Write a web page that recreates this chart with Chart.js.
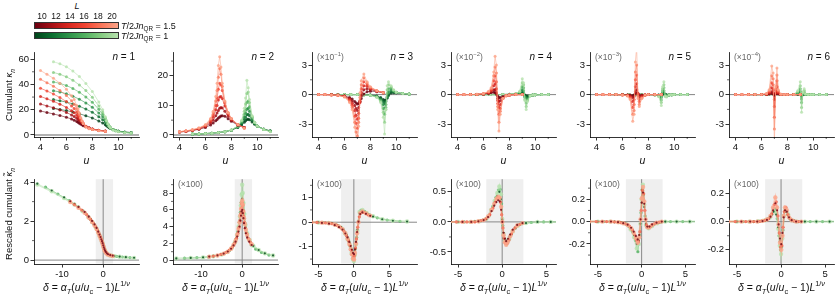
<!DOCTYPE html>
<html>
<head>
<meta charset="utf-8">
<script src="https://cdn.jsdelivr.net/npm/chart.js@4.4.1/dist/chart.umd.min.js"></script>
<style>
  body { margin: 0; background: #fff; }
  #fig { position: relative; width: 840px; height: 294px; overflow: hidden; background: #fff;
         font-family: "Liberation Sans", Arial, sans-serif; color: #111; }
  #fig canvas { position: absolute; }
  .lbl { position: absolute; white-space: nowrap; line-height: 1; }
  .c { transform: translate(-50%, -50%); }
  .r { transform: translate(-100%, -50%); }
  .l { transform: translate(0, -50%); }
  .vert { transform: translate(-50%, -50%) rotate(-90deg); }
  .note { color: #666; font-size: 8.5px; }
  .bar { position: absolute; width: 85px; height: 7px; border: 0.8px solid #333; box-sizing: border-box; }
  sub, sup { font-size: 70%; line-height: 0; }
</style>
</head>
<body>
<div id="fig"></div>
<script>
// ---- grids (top row: u, bottom row: delta) ----
const uRed = [4, 4.5, 5, 5.5, 6, 6.4, 6.6, 6.8, 6.9, 7.0, 7.1, 7.2, 7.3, 7.5, 7.75, 8, 8.5, 9];
const uGreen = [5, 5.5, 6, 6.5, 7, 7.5, 8, 8.5, 8.8, 9.0, 9.1, 9.2, 9.3, 9.4, 9.6, 9.8, 10, 10.5, 11];
const dRed = [-8, -6, -4.5, -3.5, -2.7, -2.1, -1.6, -1.2, -0.9, -0.65, -0.45, -0.28, -0.12, 0.02, 0.16, 0.3, 0.45, 0.65, 0.9, 1.2, 1.7, 2.3];
const dRedMid = [-7, -5.2, -4, -3.1, -2.4, -1.85, -1.4, -1.05, -0.77, -0.55, -0.36, -0.2, -0.05, 0.09, 0.23, 0.37, 0.55, 0.77, 1.05, 1.45, 2.0];
const dGreen = [-16, -12.5, -9.5, -7, -5, -3.6, -2.6, -1.8, -1.25, -0.85, -0.55, -0.32, -0.14, 0, 0.14, 0.3, 0.5, 0.8, 1.2, 1.8, 2.7, 4, 5.5, 7.5];
const dGreenMid = [-14, -11, -8.2, -6, -4.3, -3.1, -2.2, -1.5, -1.05, -0.7, -0.43, -0.23, -0.07, 0.07, 0.22, 0.4, 0.65, 1.0, 1.5, 2.2, 3.3, 4.7, 6.5];

const sizes = [10, 12, 14, 16, 18, 20];
const redShades = ['#6b0010', '#a50f15', '#d7261e', '#f14432', '#f9765a', '#fca488'];
const greenShades = ['#00441b', '#0b6e30', '#2c9148', '#52b160', '#86cc82', '#b7e2ae'];

// ---- cumulant kappa_n(u), one row per L (10..20) ----
const k1Red = [
  [19, 17.8, 16.6, 15.4, 14, 12.6, 11.7, 10.6, 10, 9.3, 8.6, 8, 7.4, 6.5, 5.5, 4.8, 3.8, 3.2],
  [24.5, 23, 21.5, 19.8, 17.8, 15.8, 14.6, 13.2, 12.3, 11.4, 10.4, 9.5, 8.6, 7, 5.7, 4.8, 3.7, 3.1],
  [30.5, 28.6, 26.6, 24.4, 21.8, 19.2, 17.6, 15.6, 14.4, 13, 11.6, 10.2, 8.9, 6.9, 5.5, 4.6, 3.6, 3.0],
  [37, 34.8, 32.4, 29.6, 26.4, 23, 21, 18.2, 16.6, 14.8, 12.6, 10.7, 9.0, 6.7, 5.3, 4.5, 3.5, 3.0],
  [44, 41.4, 38.6, 35.2, 31.2, 27, 24.4, 20.8, 18.6, 16, 13.3, 11, 9.0, 6.5, 5.1, 4.4, 3.5, 2.9],
  [51, 48, 44.8, 41, 36.2, 31, 28, 23.4, 20.6, 17.3, 13.9, 11.2, 9.0, 6.3, 5.0, 4.3, 3.4, 2.9]
];
const k1Green = [
  [21, 20.2, 19.3, 18.2, 16.8, 15.2, 13.4, 11, 9.4, 8.1, 7.3, 6.5, 5.8, 5.2, 4.3, 3.6, 3.1, 2.4, 2.0],
  [28, 27.1, 26, 24.6, 22.7, 20.5, 17.9, 14.4, 12, 10.1, 8.8, 7.6, 6.5, 5.6, 4.4, 3.6, 3.0, 2.2, 1.8],
  [35, 34, 32.6, 30.7, 28.3, 25.4, 21.9, 17.4, 14.4, 11.6, 9.8, 8.2, 6.8, 5.7, 4.3, 3.5, 2.9, 2.1, 1.7],
  [42, 40.8, 39.1, 36.8, 33.8, 30.1, 25.8, 20.3, 16.4, 12.7, 10.5, 8.5, 6.9, 5.7, 4.2, 3.4, 2.8, 2.0, 1.6],
  [49.5, 48, 46, 43.3, 39.6, 35.1, 29.8, 23, 18.2, 13.6, 11, 8.7, 7.0, 5.6, 4.1, 3.3, 2.7, 1.9, 1.5],
  [58, 56.3, 53.9, 50.6, 46.2, 40.8, 34.4, 26, 20, 14.5, 11.5, 8.8, 7.0, 5.6, 4.0, 3.2, 2.6, 1.8, 1.5]
];
const k2Red = [
  [1.0, 1.2, 1.5, 1.9, 2.5, 3.4, 4.0, 4.8, 5.2, 5.7, 6.1, 6.4, 6.5, 6.3, 5.5, 4.6, 3.3, 2.5],
  [1.0, 1.2, 1.6, 2.0, 2.8, 4.0, 5.0, 6.5, 7.4, 8.3, 9.0, 9.3, 9.1, 8.0, 6.3, 5.0, 3.4, 2.5],
  [1.0, 1.3, 1.6, 2.1, 3.0, 4.5, 6.0, 8.5, 10.0, 11.8, 12.8, 13.0, 12.3, 9.8, 7.0, 5.3, 3.5, 2.4],
  [1.1, 1.3, 1.7, 2.2, 3.2, 5.0, 6.8, 10.0, 12.5, 15.5, 17.5, 17.0, 15.0, 10.8, 7.4, 5.5, 3.5, 2.4],
  [1.1, 1.3, 1.7, 2.3, 3.3, 5.3, 7.5, 11.5, 15.0, 19.5, 22.5, 20.5, 16.5, 11.2, 7.5, 5.5, 3.5, 2.3],
  [1.1, 1.4, 1.8, 2.4, 3.5, 5.6, 8.0, 13.0, 17.5, 23.5, 26.5, 23.0, 17.5, 11.5, 7.6, 5.6, 3.5, 2.3]
];
const k2Green = [
  [0.3, 0.35, 0.45, 0.6, 0.8, 1.1, 1.6, 2.5, 3.4, 4.3, 4.8, 5.2, 5.3, 5.1, 4.4, 3.6, 3.0, 2.0, 1.4],
  [0.3, 0.35, 0.45, 0.6, 0.8, 1.1, 1.6, 2.7, 3.8, 5.2, 6.0, 6.8, 7.0, 6.5, 5.0, 3.8, 3.0, 1.9, 1.3],
  [0.3, 0.35, 0.45, 0.6, 0.8, 1.1, 1.6, 2.8, 4.2, 6.0, 7.4, 8.7, 9.0, 8.0, 5.5, 4.0, 3.0, 1.9, 1.3],
  [0.3, 0.35, 0.45, 0.6, 0.8, 1.1, 1.7, 2.9, 4.5, 7.0, 8.8, 11.0, 11.5, 9.5, 6.0, 4.1, 3.0, 1.8, 1.2],
  [0.3, 0.35, 0.45, 0.6, 0.8, 1.1, 1.7, 3.0, 4.8, 8.0, 10.5, 14.0, 14.5, 11.0, 6.3, 4.2, 3.0, 1.8, 1.2],
  [0.3, 0.35, 0.45, 0.6, 0.8, 1.1, 1.7, 3.1, 5.0, 9.0, 12.5, 18.5, 16.0, 12.0, 6.5, 4.3, 3.0, 1.8, 1.1]
];
// kappa_3 in units of 1e-1
const k3Red = [
  [0, 0, -0.02, -0.05, -0.12, -0.3, -0.45, -0.7, -0.85, -0.95, -0.9, -0.7, -0.4, 0.05, 0.3, 0.35, 0.3, 0.2],
  [0, 0, -0.02, -0.05, -0.15, -0.4, -0.65, -1.1, -1.4, -1.6, -1.3, -0.7, -0.1, 0.5, 0.6, 0.5, 0.35, 0.2],
  [0, 0, -0.02, -0.06, -0.18, -0.5, -0.9, -1.6, -2.1, -2.5, -1.9, -0.8, 0.2, 0.9, 0.85, 0.6, 0.35, 0.2],
  [0, 0, -0.02, -0.06, -0.2, -0.6, -1.1, -2.2, -2.9, -3.4, -2.4, -0.6, 0.6, 1.3, 1.0, 0.7, 0.4, 0.2],
  [0, 0, -0.03, -0.07, -0.22, -0.7, -1.3, -2.8, -3.8, -4.2, -2.8, -0.3, 1.0, 1.7, 1.2, 0.75, 0.4, 0.2],
  [0, 0, -0.03, -0.07, -0.25, -0.8, -1.5, -3.3, -4.6, -5.5, -3.2, 0.2, 1.4, 2.1, 1.3, 0.8, 0.4, 0.2]
];
const k3Green = [
  [0, 0, 0, 0, 0, -0.02, -0.05, -0.15, -0.3, -0.5, -0.6, -0.55, -0.35, -0.1, 0.15, 0.2, 0.18, 0.1, 0.05],
  [0, 0, 0, 0, 0, -0.02, -0.05, -0.17, -0.4, -0.7, -0.9, -0.7, -0.3, 0.05, 0.3, 0.3, 0.2, 0.1, 0.05],
  [0, 0, 0, 0, 0, -0.02, -0.05, -0.2, -0.5, -1.0, -1.4, -1.0, -0.2, 0.3, 0.5, 0.35, 0.22, 0.1, 0.05],
  [0, 0, 0, 0, 0, -0.02, -0.06, -0.22, -0.6, -1.4, -2.0, -1.3, 0.1, 0.6, 0.7, 0.4, 0.25, 0.1, 0.05],
  [0, 0, 0, 0, 0, -0.02, -0.06, -0.25, -0.7, -1.8, -2.8, -1.5, 0.5, 1.0, 0.8, 0.45, 0.25, 0.1, 0.05],
  [0, 0, 0, 0, 0, -0.03, -0.07, -0.3, -0.8, -2.3, -4.0, -1.5, 0.9, 1.3, 0.9, 0.5, 0.25, 0.1, 0.05]
];
// kappa_4 in units of 1e-2
const k4Red = [
  [0, 0, 0, 0.02, 0.05, 0.12, 0.2, 0.25, 0.2, 0.05, -0.15, -0.3, -0.3, -0.2, -0.08, -0.03, 0, 0],
  [0, 0, 0, 0.02, 0.06, 0.15, 0.3, 0.5, 0.5, 0.2, -0.4, -0.7, -0.6, -0.3, -0.1, -0.03, 0, 0],
  [0, 0, 0, 0.02, 0.07, 0.2, 0.4, 0.9, 1.1, 0.6, -0.6, -1.3, -1.0, -0.4, -0.12, -0.04, 0, 0],
  [0, 0, 0, 0.02, 0.08, 0.25, 0.5, 1.4, 1.9, 1.3, -0.9, -2.0, -1.4, -0.4, -0.12, -0.04, 0, 0],
  [0, 0, 0, 0.03, 0.09, 0.3, 0.6, 1.9, 2.8, 2.2, -1.2, -2.8, -1.7, -0.4, -0.12, -0.04, 0, 0],
  [0, 0, 0, 0.03, 0.1, 0.35, 0.7, 2.3, 3.9, 3.0, -1.5, -3.7, -2.0, -0.4, -0.1, -0.04, 0, 0]
];
const k4Green = [
  [0, 0, 0, 0, 0, 0.01, 0.02, 0.05, 0.1, 0.15, 0.1, -0.05, -0.15, -0.15, -0.08, -0.04, -0.02, 0, 0],
  [0, 0, 0, 0, 0, 0.01, 0.02, 0.06, 0.15, 0.3, 0.2, -0.1, -0.3, -0.25, -0.1, -0.04, -0.02, 0, 0],
  [0, 0, 0, 0, 0, 0.01, 0.03, 0.07, 0.2, 0.5, 0.4, -0.2, -0.55, -0.4, -0.12, -0.05, -0.02, 0, 0],
  [0, 0, 0, 0, 0, 0.01, 0.03, 0.08, 0.25, 0.8, 0.7, -0.3, -0.85, -0.5, -0.12, -0.05, -0.02, 0, 0],
  [0, 0, 0, 0, 0, 0.01, 0.03, 0.09, 0.3, 1.2, 1.0, -0.5, -1.2, -0.6, -0.12, -0.05, -0.02, 0, 0],
  [0, 0, 0, 0, 0, 0.01, 0.03, 0.1, 0.35, 1.6, 1.2, -0.6, -1.5, -0.7, -0.12, -0.05, -0.02, 0, 0]
];
// kappa_5 in units of 1e-3
const k5Red = [
  [0, 0, 0, 0, -0.01, -0.03, -0.05, -0.1, -0.05, 0.1, 0.15, 0.05, -0.05, -0.05, -0.02, 0, 0, 0],
  [0, 0, 0, 0, -0.01, -0.05, -0.1, -0.3, -0.2, 0.3, 0.5, 0.1, -0.2, -0.1, -0.03, 0, 0, 0],
  [0, 0, 0, 0, -0.02, -0.08, -0.2, -0.7, -0.5, 0.8, 1.1, 0.1, -0.4, -0.2, -0.04, 0, 0, 0],
  [0, 0, 0, 0, -0.02, -0.1, -0.3, -1.3, -1.0, 1.5, 2.0, 0, -0.7, -0.3, -0.05, 0, 0, 0],
  [0, 0, 0, 0, -0.03, -0.12, -0.4, -2.0, -1.6, 2.3, 3.0, -0.2, -1.0, -0.35, -0.05, 0, 0, 0],
  [0, 0, 0, 0, -0.03, -0.15, -0.5, -2.7, -2.0, 3.3, 4.8, -0.4, -1.2, -0.4, -0.05, 0, 0, 0]
];
const k5Green = [
  [0, 0, 0, 0, 0, 0, 0, -0.01, -0.03, -0.06, 0.03, 0.08, 0.02, -0.02, -0.02, -0.01, 0, 0, 0],
  [0, 0, 0, 0, 0, 0, 0, -0.01, -0.05, -0.15, 0.1, 0.2, 0.0, -0.05, -0.03, -0.01, 0, 0, 0],
  [0, 0, 0, 0, 0, 0, 0, -0.02, -0.08, -0.3, 0.2, 0.4, -0.05, -0.1, -0.04, -0.01, 0, 0, 0],
  [0, 0, 0, 0, 0, 0, 0, -0.02, -0.12, -0.55, 0.4, 0.7, -0.1, -0.15, -0.05, -0.01, 0, 0, 0],
  [0, 0, 0, 0, 0, 0, 0, -0.03, -0.16, -0.8, 0.6, 1.0, -0.15, -0.2, -0.05, -0.01, 0, 0, 0],
  [0, 0, 0, 0, 0, 0, 0, -0.03, -0.2, -1.1, 0.8, 1.3, -0.2, -0.25, -0.05, -0.01, 0, 0, 0]
];
// kappa_6 in units of 1e-4
const k6Red = [
  [0, 0, 0, 0, 0, 0.02, 0.05, 0.1, 0.05, -0.15, 0.05, 0.1, 0.05, 0, 0, 0, 0, 0],
  [0, 0, 0, 0, 0, 0.03, 0.1, 0.3, 0.2, -0.5, 0.1, 0.3, 0.1, 0, 0, 0, 0, 0],
  [0, 0, 0, 0, 0, 0.05, 0.2, 0.7, 0.5, -1.2, 0.2, 0.8, 0.2, 0.02, 0, 0, 0, 0],
  [0, 0, 0, 0, 0.01, 0.07, 0.3, 1.2, 1.0, -2.3, 0.4, 1.4, 0.3, 0.03, 0, 0, 0, 0],
  [0, 0, 0, 0, 0.01, 0.09, 0.4, 1.9, 1.6, -3.5, 0.6, 2.0, 0.4, 0.03, 0, 0, 0, 0],
  [0, 0, 0, 0, 0.01, 0.1, 0.5, 2.9, 2.2, -5.0, 0.8, 2.7, 0.5, 0.03, 0, 0, 0, 0]
];
const k6Green = [
  [0, 0, 0, 0, 0, 0, 0, 0, 0.02, 0.05, -0.08, 0.02, 0.03, 0, 0, 0, 0, 0, 0],
  [0, 0, 0, 0, 0, 0, 0, 0.01, 0.05, 0.15, -0.2, 0.05, 0.08, 0.01, 0, 0, 0, 0, 0],
  [0, 0, 0, 0, 0, 0, 0, 0.01, 0.1, 0.35, -0.45, 0.1, 0.15, 0.02, 0, 0, 0, 0, 0],
  [0, 0, 0, 0, 0, 0, 0, 0.01, 0.2, 0.6, -0.8, 0.15, 0.3, 0.03, 0, 0, 0, 0, 0],
  [0, 0, 0, 0, 0, 0, 0, 0.02, 0.3, 0.9, -1.3, 0.2, 0.45, 0.04, 0, 0, 0, 0, 0],
  [0, 0, 0, 0, 0, 0, 0, 0.02, 0.4, 1.3, -1.8, 0.25, 0.6, 0.05, 0, 0, 0, 0, 0]
];

// ---- rescaled cumulants vs delta: [L=10 on dRed/dGreen, L=15 on *Mid, L=20 on dRed/dGreen] ----
const r1Red = [
  [3.02, 2.73, 2.47, 2.23, 2.01, 1.83, 1.65, 1.46, 1.31, 1.18, 1.07, 0.97, 0.87, 0.76, 0.66, 0.57, 0.49, 0.42, 0.35, 0.3, 0.26, 0.23],
  [2.85, 2.57, 2.33, 2.1, 1.9, 1.72, 1.53, 1.36, 1.22, 1.1, 1.0, 0.9, 0.8, 0.7, 0.6, 0.51, 0.43, 0.37, 0.31, 0.27, 0.23],
  [2.98, 2.68, 2.43, 2.18, 1.96, 1.78, 1.6, 1.41, 1.26, 1.13, 1.03, 0.93, 0.83, 0.72, 0.62, 0.53, 0.46, 0.39, 0.33, 0.28, 0.24, 0.21]
];
const r1Green = [
  [3.92, 3.57, 3.22, 2.88, 2.54, 2.24, 1.97, 1.7, 1.47, 1.27, 1.12, 0.99, 0.87, 0.77, 0.67, 0.57, 0.47, 0.37, 0.3, 0.25, 0.21, 0.18, 0.15, 0.12],
  [3.74, 3.39, 3.05, 2.73, 2.4, 2.1, 1.84, 1.58, 1.37, 1.19, 1.05, 0.93, 0.82, 0.72, 0.62, 0.52, 0.41, 0.33, 0.27, 0.22, 0.19, 0.16, 0.13],
  [3.88, 3.53, 3.18, 2.85, 2.51, 2.21, 1.94, 1.67, 1.44, 1.24, 1.09, 0.97, 0.85, 0.75, 0.65, 0.55, 0.45, 0.36, 0.29, 0.24, 0.2, 0.17, 0.14, 0.11]
];
const r2Red = [
  [0.42, 0.57, 0.78, 1.02, 1.35, 1.75, 2.2, 2.8, 3.4, 4.0, 4.7, 5.3, 5.8, 6.0, 5.6, 5.0, 4.4, 3.8, 3.2, 2.7, 2.2, 1.8],
  [0.48, 0.68, 0.9, 1.2, 1.55, 2.0, 2.6, 3.2, 3.9, 4.7, 5.5, 6.2, 6.7, 6.5, 5.9, 5.2, 4.5, 3.8, 3.2, 2.6, 2.1],
  [0.4, 0.55, 0.75, 1.0, 1.35, 1.8, 2.3, 3.0, 3.7, 4.5, 5.3, 6.1, 6.8, 7.1, 6.6, 5.8, 5.0, 4.3, 3.6, 3.0, 2.4, 1.9]
];
const r2Green = [
  [0.2, 0.25, 0.33, 0.46, 0.66, 0.97, 1.42, 2.1, 2.9, 3.8, 4.8, 5.8, 6.7, 7.3, 6.8, 5.9, 4.9, 3.9, 3.0, 2.3, 1.7, 1.2, 0.8, 0.55],
  [0.22, 0.28, 0.38, 0.54, 0.8, 1.15, 1.7, 2.5, 3.4, 4.5, 5.7, 6.9, 7.9, 7.9, 6.9, 5.6, 4.4, 3.3, 2.5, 1.8, 1.3, 0.9, 0.6],
  [0.2, 0.25, 0.32, 0.45, 0.65, 0.95, 1.4, 2.1, 3.0, 4.0, 5.2, 6.5, 7.8, 9.0, 8.0, 6.8, 5.5, 4.2, 3.2, 2.4, 1.7, 1.2, 0.8, 0.55]
];
const r3Red = [
  [0, -0.01, -0.03, -0.06, -0.12, -0.2, -0.3, -0.46, -0.62, -0.8, -0.97, -1.12, -1.25, -1.3, -1.1, -0.8, -0.4, 0.02, 0.33, 0.4, 0.34, 0.26],
  [0, -0.01, -0.03, -0.06, -0.12, -0.22, -0.36, -0.54, -0.74, -0.94, -1.14, -1.3, -1.42, -1.35, -1.05, -0.68, -0.2, 0.22, 0.4, 0.4, 0.3],
  [0, 0, -0.02, -0.04, -0.09, -0.17, -0.28, -0.45, -0.66, -0.88, -1.1, -1.3, -1.48, -1.52, -1.25, -0.87, -0.45, 0.0, 0.37, 0.44, 0.36, 0.27]
];
const r3Green = [
  [0, 0, 0, 0, -0.01, -0.03, -0.09, -0.2, -0.4, -0.62, -0.85, -1.1, -1.3, -1.35, -1.15, -0.8, -0.3, 0.35, 0.45, 0.36, 0.23, 0.12, 0.06, 0.03],
  [0, 0, 0, 0, -0.02, -0.05, -0.14, -0.3, -0.52, -0.78, -1.05, -1.32, -1.45, -1.38, -1.08, -0.62, 0.05, 0.48, 0.44, 0.3, 0.18, 0.09, 0.04],
  [0, 0, 0, 0, -0.01, -0.03, -0.1, -0.22, -0.45, -0.7, -0.95, -1.25, -1.5, -1.58, -1.32, -0.9, -0.35, 0.42, 0.5, 0.38, 0.24, 0.12, 0.06, 0.03]
];
const r4Red = [
  [0, 0, 0, 0, 0.01, 0.03, 0.08, 0.18, 0.27, 0.33, 0.36, 0.34, 0.2, 0.0, -0.18, -0.28, -0.32, -0.28, -0.21, -0.13, -0.05, -0.02],
  [0, 0, 0, 0, 0.02, 0.05, 0.12, 0.23, 0.33, 0.4, 0.41, 0.33, 0.12, -0.1, -0.27, -0.35, -0.36, -0.3, -0.2, -0.1, -0.04],
  [0, 0, 0, 0, 0.01, 0.03, 0.09, 0.2, 0.3, 0.38, 0.42, 0.4, 0.25, 0.0, -0.22, -0.34, -0.38, -0.33, -0.24, -0.15, -0.06, -0.02]
];
const r4Green = [
  [0, 0, 0, 0, 0, 0, 0.01, 0.05, 0.18, 0.32, 0.43, 0.5, 0.38, 0.04, -0.18, -0.28, -0.31, -0.25, -0.14, -0.05, -0.02, 0, 0, 0],
  [0, 0, 0, 0, 0, 0.01, 0.03, 0.1, 0.26, 0.41, 0.53, 0.54, 0.3, -0.06, -0.27, -0.35, -0.32, -0.21, -0.1, -0.03, -0.01, 0, 0],
  [0, 0, 0, 0, 0, 0, 0.01, 0.05, 0.2, 0.35, 0.48, 0.59, 0.46, 0.05, -0.2, -0.32, -0.36, -0.28, -0.16, -0.06, -0.02, 0, 0, 0]
];
const r5Red = [
  [0, 0, 0, 0, -0.005, -0.014, -0.028, -0.055, -0.09, -0.13, -0.16, -0.12, 0.02, 0.17, 0.26, 0.16, 0.02, -0.045, -0.045, -0.025, -0.01, 0],
  [0, 0, 0, -0.003, -0.01, -0.02, -0.04, -0.075, -0.12, -0.17, -0.18, -0.09, 0.1, 0.28, 0.25, 0.1, -0.03, -0.055, -0.04, -0.02, -0.005],
  [0, 0, 0, 0, -0.005, -0.015, -0.03, -0.06, -0.1, -0.15, -0.19, -0.14, 0.02, 0.21, 0.31, 0.18, 0.02, -0.05, -0.05, -0.03, -0.01, 0]
];
const r5Green = [
  [0, 0, 0, 0, 0, 0, -0.005, -0.02, -0.06, -0.12, -0.2, -0.17, -0.02, 0.17, 0.28, 0.13, -0.02, -0.05, -0.035, -0.012, 0, 0, 0, 0],
  [0, 0, 0, 0, 0, -0.002, -0.01, -0.04, -0.09, -0.17, -0.27, -0.12, 0.08, 0.29, 0.24, 0.05, -0.05, -0.045, -0.02, -0.005, 0, 0, 0],
  [0, 0, 0, 0, 0, 0, -0.005, -0.02, -0.07, -0.14, -0.24, -0.2, -0.02, 0.2, 0.33, 0.15, -0.03, -0.06, -0.04, -0.015, 0, 0, 0, 0]
];
const r6Red = [
  [0, 0, 0, 0, 0, 0.004, 0.012, 0.035, 0.08, 0.13, 0.08, -0.02, -0.12, -0.16, -0.08, 0.03, 0.08, 0.07, 0.03, 0.01, 0, 0],
  [0, 0, 0, 0, 0.002, 0.008, 0.02, 0.055, 0.12, 0.14, 0.04, -0.08, -0.18, -0.17, -0.04, 0.07, 0.1, 0.05, 0.02, 0.005, 0],
  [0, 0, 0, 0, 0, 0.005, 0.015, 0.04, 0.1, 0.17, 0.1, -0.02, -0.15, -0.2, -0.1, 0.04, 0.1, 0.08, 0.03, 0.01, 0, 0]
];
const r6Green = [
  [0, 0, 0, 0, 0, 0, 0.003, 0.01, 0.03, 0.07, 0.05, -0.04, -0.14, -0.19, -0.1, 0.03, 0.08, 0.04, 0.01, 0, 0, 0, 0, 0],
  [0, 0, 0, 0, 0, 0, 0.005, 0.02, 0.05, 0.09, 0.02, -0.1, -0.2, -0.18, -0.06, 0.07, 0.07, 0.02, 0.005, 0, 0, 0, 0],
  [0, 0, 0, 0, 0, 0, 0.003, 0.01, 0.03, 0.08, 0.06, -0.05, -0.17, -0.23, -0.12, 0.04, 0.09, 0.05, 0.01, 0, 0, 0, 0, 0]
];

// ---- axes ----
const topXTicks = [4, 6, 8, 10];
const topYTicks = [[0, 20, 40, 60], [0, 10, 20], [-3, 0, 3], [-3, 0, 3], [-3, 0, 3], [-3, 0, 3]];
const topYMinor = [[10, 30, 50], [5, 15, 25], [-1.5, 1.5], [-1.5, 1.5], [-1.5, 1.5], [-1.5, 1.5]];
const topYRange = [[-1.6, 65.5], [-0.7, 28], [-4.3, 4.3], [-4.3, 4.3], [-4.3, 4.3], [-4.3, 4.3]];
const topNotes = ['', '', '(×10<sup>−1</sup>)', '(×10<sup>−2</sup>)', '(×10<sup>−3</sup>)', '(×10<sup>−4</sup>)'];
const botXTicks = [[-10, 0], [-10, 0], [-5, 0, 5], [-5, 0, 5], [-5, 0, 5], [-5, 0, 5]];
const botXRange = [[-16.8, 8.7], [-16.8, 8.7], [-5.9, 8.9], [-5.8, 6.1], [-5.9, 6.1], [-5.9, 6.0]];
const botYTicks = [[0, 2, 4], [0, 2, 4, 6, 8], [-1, 0, 1], [-0.5, 0, 0.5], [-0.2, 0, 0.2], [-0.2, 0, 0.2]];
const botYMinor = [[1, 3], [1, 3, 5, 7, 9], [-1.5, -0.5, 0.5, 1.5], [-0.25, 0.25], [-0.3, -0.1, 0.1, 0.3], [-0.1, 0.1]];
const botYRange = [[-0.2, 4.15], [-0.47, 9.65], [-1.7, 1.75], [-0.7, 0.71], [-0.38, 0.38], [-0.3, 0.3]];
const botYDigits = [0, 0, 0, 1, 1, 1];
const critBand = [-1.8, 2.4];

const topRed = [k1Red, k2Red, k3Red, k4Red, k5Red, k6Red];
const topGreen = [k1Green, k2Green, k3Green, k4Green, k5Green, k6Green];
const botRed = [r1Red, r2Red, r3Red, r4Red, r5Red, r6Red];
const botGreen = [r1Green, r2Green, r3Green, r4Green, r5Green, r6Green];

// ---- layout ----
const colLeft = [34, 173, 312, 451, 590, 729];
const rowTop = [51, 178];
const PW = 105, PH = 86, YW = 30, XH = 18, PAD = 6;

Chart.defaults.font.family = '"Liberation Sans", Arial, sans-serif';
Chart.defaults.font.size = 9.5;
Chart.defaults.color = '#111';

const fig = document.getElementById('fig');

function rgba(hex, a) {
  const n = parseInt(hex.slice(1), 16);
  return `rgba(${n >> 16},${(n >> 8) & 255},${n & 255},${a})`;
}

function line(xs, ys, color, width, radius) {
  return {
    data: ys.map((y, i) => ({x: xs[i], y: y})),
    showLine: width > 0,
    borderColor: rgba(color, 0.55),
    borderWidth: width,
    pointRadius: radius,
    pointBackgroundColor: rgba(color, 0.8),
    pointBorderWidth: 0,
    pointHoverRadius: 0
  };
}

// reference lines, critical band and minor ticks
const decor = {
  id: 'decor',
  beforeDraw(chart, args, o) {
    const {ctx, chartArea: a, scales: {x, y}} = chart;
    ctx.save();
    if (o.band) {
      const x0 = x.getPixelForValue(o.band[0]), x1 = x.getPixelForValue(o.band[1]);
      ctx.fillStyle = '#efefef';
      ctx.fillRect(x0, a.top, x1 - x0, a.bottom - a.top - 0.5);
    }
    ctx.strokeStyle = o.lineColor || '#888';
    ctx.lineWidth = o.lineWidth || 1;
    ctx.beginPath();
    if (o.hline) {
      const p = y.getPixelForValue(0);
      ctx.moveTo(a.left, p); ctx.lineTo(a.right, p);
    }
    if (o.vline) {
      const p = x.getPixelForValue(0);
      ctx.moveTo(p, a.top); ctx.lineTo(p, a.bottom);
    }
    ctx.stroke();
    ctx.restore();
  },
  afterDraw(chart, args, o) {
    const {ctx, chartArea: a, scales: {x, y}} = chart;
    ctx.save();
    ctx.strokeStyle = '#000';
    ctx.lineWidth = 0.6;
    ctx.beginPath();
    (o.xMinor || []).forEach(v => {
      const p = x.getPixelForValue(v);
      ctx.moveTo(p, a.bottom); ctx.lineTo(p, a.bottom + 2);
    });
    (o.yMinor || []).forEach(v => {
      const p = y.getPixelForValue(v);
      ctx.moveTo(a.left, p); ctx.lineTo(a.left - 2, p);
    });
    ctx.stroke();
    ctx.restore();
  }
};

function axis(range, ticks, digits, fitFn) {
  return {
    type: 'linear',
    min: range[0],
    max: range[1],
    afterBuildTicks: s => { s.ticks = ticks.map(v => ({value: v})); },
    afterFit: fitFn,
    grid: {drawOnChartArea: false, drawTicks: true, tickLength: 3.5, color: '#000', lineWidth: 0.8},
    border: {display: true, color: '#000', width: 0.8},
    ticks: {
      autoSkip: false, maxRotation: 0, padding: 1.5, color: '#111',
      callback: v => v.toFixed(digits)
    }
  };
}

function panel(row, col, datasets, xr, xt, yr, yt, yDigits, deco) {
  const c = document.createElement('canvas');
  const w = YW + PW + PAD, h = PAD + PH + XH;
  c.width = w; c.height = h;
  c.style.left = (colLeft[col] - YW) + 'px';
  c.style.top = (rowTop[row] - PAD) + 'px';
  fig.appendChild(c);
  new Chart(c, {
    type: 'scatter',
    data: {datasets: datasets},
    options: {
      responsive: false,
      animation: false,
      devicePixelRatio: 1,
      layout: {padding: {top: PAD, right: PAD, left: 0, bottom: 0}},
      plugins: {legend: {display: false}, tooltip: {enabled: false}, decor: deco},
      scales: {
        x: axis(xr, xt, 0, s => { s.height = XH; }),
        y: axis(yr, yt, yDigits, s => { s.width = YW; })
      }
    },
    plugins: [decor]
  });
}

function label(html, x, y, cls, size, extra) {
  const d = document.createElement('div');
  d.className = 'lbl ' + cls;
  d.innerHTML = html;
  d.style.left = x + 'px';
  d.style.top = y + 'px';
  d.style.fontSize = (size || 10) + 'px';
  if (extra) Object.assign(d.style, extra);
  fig.appendChild(d);
}

// top row: kappa_n vs u (lightest L drawn on top: first dataset is drawn last)
for (let k = 0; k < 6; k++) {
  const sets = [];
  for (let i = 5; i >= 0; i--) sets.push(line(uRed, topRed[k][i], redShades[i], 1, 1.5));
  for (let i = 5; i >= 0; i--) sets.push(line(uGreen, topGreen[k][i], greenShades[i], 1, 1.5));
  panel(0, k, sets, [3.5, 11.6], topXTicks, topYRange[k], topYTicks[k], 0,
    {hline: true, lineColor: k < 2 ? '#999' : '#777', lineWidth: k < 2 ? 1.5 : 0.9,
     xMinor: [5, 7, 9, 11], yMinor: topYMinor[k]});
  const cx = colLeft[k] + PW / 2;
  label('<i>u</i>', cx, 160, 'c', 10.5);
  label('<i>n</i> = ' + (k + 1), colLeft[k] + PW - 4, 57, 'r', 10);
  if (topNotes[k]) label(topNotes[k], colLeft[k] + 5, 57, 'l note', 8.5);
}

// bottom row: rescaled cumulants vs delta
// small dark L=10 dots on top, wide light L=20 band, mid L=15 underneath
const order = [0, 2, 1];
const pick = [0, 3, 5], radii = [1.1, 1.6, 2.2], widths = [0, 1.0, 2.0];
for (let k = 0; k < 6; k++) {
  const sets = [];
  const rx = [dRed, dRedMid, dRed], gx = [dGreen, dGreenMid, dGreen];
  order.forEach(i => sets.push(line(rx[i], botRed[k][i], redShades[pick[i]], widths[i], radii[i])));
  order.forEach(i => sets.push(line(gx[i], botGreen[k][i], greenShades[pick[i]], widths[i], radii[i])));
  panel(1, k, sets, botXRange[k], botXTicks[k], botYRange[k], botYTicks[k], botYDigits[k],
    {band: critBand, hline: true, vline: true, lineColor: '#888', lineWidth: 1,
     xMinor: [], yMinor: botYMinor[k]});
  const cx = colLeft[k] + PW / 2;
  label('<i>δ</i> = <i>α</i><sub><i>T</i></sub>(<i>u</i>/<i>u</i><sub>c</sub> − 1)<i>L</i><sup>1/<i>ν</i></sup>', cx, 287, 'c', 10.5);
  if (k > 0) label('(×100)', colLeft[k] + 5, 184, 'l note', 8.5);
}

// y titles
label('Cumulant <i>κ</i><sub><i>n</i></sub>', 9, 95, 'vert', 9.5);
label('Rescaled cumulant <i>κ̃</i><sub><i>n</i></sub>', 9, 214, 'vert', 9.5);

// colour bars for L
label('<i>L</i>', 77, 6, 'c', 9);
sizes.forEach((s, i) => label(String(s), 42 + 14 * i, 16, 'c', 8.5));
const redBar = document.createElement('div');
redBar.className = 'bar';
redBar.style.left = '34px'; redBar.style.top = '22px';
redBar.style.background = 'linear-gradient(to right,' + redShades.join(',') + ')';
fig.appendChild(redBar);
const greenBar = document.createElement('div');
greenBar.className = 'bar';
greenBar.style.left = '34px'; greenBar.style.top = '32px';
greenBar.style.background = 'linear-gradient(to right,' + greenShades.join(',') + ')';
fig.appendChild(greenBar);
label('<i>T</i>/2<i>Jn</i><sub>QR</sub> = 1.5', 121, 25.5, 'l', 9);
label('<i>T</i>/2<i>Jn</i><sub>QR</sub> = 1', 121, 35.5, 'l', 9);
</script>
</body>
</html>
